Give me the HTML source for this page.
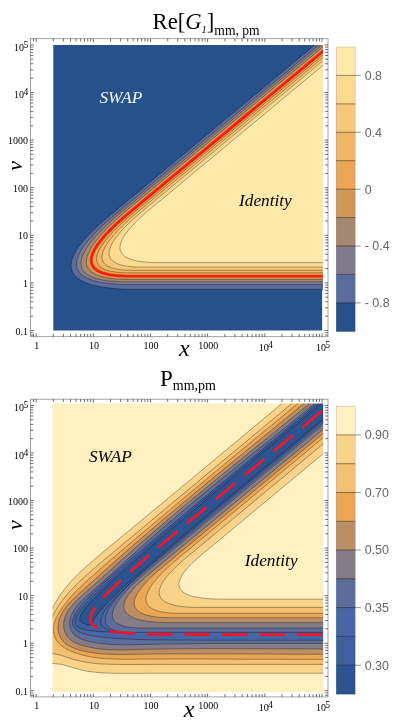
<!DOCTYPE html>
<html><head><meta charset="utf-8"><title>contour plots</title><style>html,body{margin:0;padding:0;background:#fff}svg{display:block;will-change:transform}text{font-family:"Liberation Serif",serif;fill:#000}.s{font-family:"Liberation Sans",sans-serif;fill:#666;font-size:12.5px}.t{font-size:10px}.i{font-style:italic}</style></head><body><svg width="393" height="723" viewBox="0 0 393 723"><rect width="393" height="723" fill="#fff"/><defs><clipPath id="c1"><rect x="53.3" y="44.9" width="269.7" height="285.6"/></clipPath></defs><g clip-path="url(#c1)" opacity=".999"><rect x="40" y="40" width="282.1" height="300" fill="#26518a"/><path d="M390.6,-18.2 108.4,216.7 104.2,220.3 100.2,223.8 96.5,227.2 93,230.6 89.8,233.8 86.8,236.9 84.1,240 81.7,242.9 79.5,245.8 77.5,248.5 75.8,251.2 74.4,253.8 73.2,256.3 72.3,258.7 71.7,261 71.3,263.3 71.1,265.4 71.2,267.4 71.6,269.4 72.2,271.3 73,273 74.2,274.7 75.5,276.3 77.2,277.8 79.1,279.2 81.2,280.5 83.6,281.7 86.3,282.9 89.2,283.9 92.3,284.9 95.8,285.7 99.4,286.5 103.4,287.2 107.6,287.8 112,288.3 116.7,288.7 121.7,289 126.9,289.2 132.3,289.4 138,289.4 390.6,289.4 383,289.4 383,-18.2Z" fill="#5a6c9e"/><path d="M390.6,-14.8 115.4,214.3 111.3,217.8 107.4,221.1 103.7,224.4 100.3,227.6 97.1,230.7 94.2,233.8 91.5,236.7 89,239.6 86.7,242.3 84.6,245 82.8,247.6 81.2,250.1 79.9,252.5 78.7,254.8 77.8,257.1 77.2,259.2 76.7,261.3 76.5,263.3 76.5,265.2 76.8,267 77.3,268.7 78,270.3 78.9,271.8 80,273.3 81.4,274.6 83.1,275.9 84.9,277.1 87,278.2 89.3,279.2 91.8,280.1 94.6,281 97.6,281.7 100.8,282.4 104.2,282.9 107.9,283.4 111.8,283.8 116,284.1 120.3,284.3 124.9,284.5 129.7,284.5 390.6,284.5 383,284.5 383,-14.8Z" fill="#807b8b"/><path d="M390.6,-12.2 123,210.6 118.8,214.1 114.9,217.5 111.1,220.8 107.6,224.1 104.3,227.3 101.3,230.3 98.4,233.3 95.8,236.2 93.3,239 91.1,241.7 89.1,244.3 87.4,246.9 85.8,249.3 84.5,251.7 83.4,253.9 82.4,256.1 81.8,258.2 81.3,260.2 81,262.1 81,263.9 81.2,265.7 81.6,267.3 82.2,268.9 83.1,270.3 84.1,271.7 85.4,273 86.9,274.2 88.6,275.3 90.5,276.3 92.6,277.3 95,278.1 97.6,278.9 100.4,279.5 103.4,280.1 106.6,280.6 110.1,281 113.7,281.3 117.6,281.5 121.7,281.7 126,281.7 390.6,281.7 383,281.7 383,-12.2Z" fill="#a68870"/><path d="M390.6,-9.4 129.9,207.7 125.7,211.2 121.7,214.7 117.9,218.1 114.3,221.3 111,224.5 107.9,227.6 104.9,230.6 102.2,233.5 99.8,236.3 97.5,239.1 95.4,241.7 93.6,244.3 91.9,246.7 90.5,249.1 89.3,251.4 88.3,253.6 87.5,255.7 86.9,257.7 86.6,259.6 86.4,261.5 86.5,263.2 86.7,264.9 87.2,266.4 87.9,267.9 88.9,269.3 90,270.6 91.3,271.8 92.9,272.9 94.7,274 96.7,274.9 98.9,275.7 101.3,276.5 103.9,277.2 106.7,277.8 109.8,278.3 113,278.7 116.5,279 120.2,279.2 124.1,279.3 128.2,279.4 390.6,279.4 383,279.4 383,-9.4Z" fill="#cf9758"/><path d="M390.6,-4.8 129.7,212.4 126,215.5 122.5,218.6 119.1,221.6 115.9,224.5 113,227.3 110.2,230.1 107.6,232.7 105.2,235.3 103,237.8 101,240.3 99.2,242.6 97.5,244.9 96.1,247.1 94.8,249.2 93.8,251.2 92.9,253.2 92.2,255 91.7,256.8 91.4,258.5 91.3,260.2 91.4,261.7 91.6,263.2 92.1,264.6 92.8,265.9 93.6,267.1 94.6,268.3 95.9,269.4 97.3,270.4 98.9,271.3 100.7,272.1 102.7,272.9 104.8,273.5 107.2,274.1 109.7,274.7 112.5,275.1 115.4,275.5 118.6,275.7 121.9,275.9 125.4,276.1 129.1,276.1 390.6,276.1 383,276.1 383,-4.8Z" fill="#eaa654"/><path d="M390.6,-1.2 135.8,210.9 132.2,214 128.7,217 125.5,219.9 122.4,222.7 119.4,225.4 116.7,228.1 114.1,230.7 111.7,233.2 109.5,235.6 107.5,238 105.6,240.3 103.9,242.5 102.4,244.6 101,246.7 99.9,248.6 98.9,250.5 98.1,252.4 97.4,254.1 97,255.8 96.7,257.3 96.6,258.8 96.7,260.3 96.9,261.6 97.3,262.9 97.9,264.1 98.7,265.2 99.7,266.3 100.8,267.2 102.1,268.1 103.6,268.9 105.2,269.7 107.1,270.3 109.1,270.9 111.2,271.4 113.6,271.8 116.1,272.2 118.9,272.5 121.7,272.7 124.8,272.8 128,272.8 390.6,272.8 383,272.8 383,-1.2Z" fill="#f0b766"/><path d="M390.6,1.5 141.3,209 137.8,212 134.3,215 131.1,217.8 128,220.6 125.1,223.4 122.4,226 119.8,228.6 117.4,231.1 115.2,233.5 113.1,235.8 111.3,238.1 109.6,240.3 108,242.4 106.7,244.4 105.5,246.3 104.5,248.2 103.6,250 103,251.7 102.5,253.4 102.2,255 102,256.5 102,257.9 102.2,259.2 102.6,260.5 103.1,261.7 103.8,262.8 104.7,263.8 105.8,264.8 107,265.7 108.4,266.5 110,267.2 111.7,267.8 113.6,268.4 115.7,268.9 118,269.3 120.4,269.7 123,269.9 125.8,270.1 128.7,270.2 131.9,270.3 390.6,270.3 383,270.3 383,1.5Z" fill="#f6c879"/><path d="M390.6,4.4 144.5,209.4 141.1,212.2 137.9,215 134.8,217.7 131.9,220.3 129.2,222.9 126.7,225.4 124.3,227.8 122.1,230.1 120.1,232.4 118.3,234.6 116.6,236.8 115,238.8 113.7,240.8 112.5,242.7 111.5,244.5 110.7,246.3 110,248 109.5,249.6 109.2,251.2 109,252.7 109,254.1 109.2,255.4 109.6,256.7 110.1,257.9 110.8,259 111.6,260 112.6,261 113.8,261.9 115.2,262.7 116.7,263.5 118.4,264.2 120.3,264.8 122.4,265.3 124.6,265.8 127,266.2 129.5,266.5 132.2,266.8 135.1,267 138.2,267.1 141.4,267.1 390.6,267.1 383,267.1 383,4.4Z" fill="#fbd98f"/><path d="M390.6,9 150.3,209 147.2,211.6 144.2,214.2 141.4,216.7 138.8,219.2 136.4,221.6 134.1,223.9 132,226.1 130,228.3 128.3,230.4 126.7,232.5 125.2,234.4 124,236.3 122.9,238.2 122,240 121.3,241.7 120.7,243.3 120.3,244.9 120.1,246.4 120,247.8 120.1,249.2 120.4,250.5 120.9,251.8 121.5,252.9 122.3,254 123.3,255.1 124.4,256.1 125.7,257 127.2,257.8 128.8,258.6 130.7,259.3 132.7,259.9 134.8,260.5 137.2,261 139.7,261.4 142.4,261.8 145.2,262.1 148.2,262.3 151.4,262.5 154.8,262.6 158.3,262.6 390.6,262.6 383,262.6 383,9Z" fill="#fee8aa"/><path d="M390.6,-18.2 108.4,216.7 104.2,220.3 100.2,223.8 96.5,227.2 93,230.6 89.8,233.8 86.8,236.9 84.1,240 81.7,242.9 79.5,245.8 77.5,248.5 75.8,251.2 74.4,253.8 73.2,256.3 72.3,258.7 71.7,261 71.3,263.3 71.1,265.4 71.2,267.4 71.6,269.4 72.2,271.3 73,273 74.2,274.7 75.5,276.3 77.2,277.8 79.1,279.2 81.2,280.5 83.6,281.7 86.3,282.9 89.2,283.9 92.3,284.9 95.8,285.7 99.4,286.5 103.4,287.2 107.6,287.8 112,288.3 116.7,288.7 121.7,289 126.9,289.2 132.3,289.4 138,289.4 390.6,289.4M390.6,-14.8 115.4,214.3 111.3,217.8 107.4,221.1 103.7,224.4 100.3,227.6 97.1,230.7 94.2,233.8 91.5,236.7 89,239.6 86.7,242.3 84.6,245 82.8,247.6 81.2,250.1 79.9,252.5 78.7,254.8 77.8,257.1 77.2,259.2 76.7,261.3 76.5,263.3 76.5,265.2 76.8,267 77.3,268.7 78,270.3 78.9,271.8 80,273.3 81.4,274.6 83.1,275.9 84.9,277.1 87,278.2 89.3,279.2 91.8,280.1 94.6,281 97.6,281.7 100.8,282.4 104.2,282.9 107.9,283.4 111.8,283.8 116,284.1 120.3,284.3 124.9,284.5 129.7,284.5 390.6,284.5M390.6,-12.2 123,210.6 118.8,214.1 114.9,217.5 111.1,220.8 107.6,224.1 104.3,227.3 101.3,230.3 98.4,233.3 95.8,236.2 93.3,239 91.1,241.7 89.1,244.3 87.4,246.9 85.8,249.3 84.5,251.7 83.4,253.9 82.4,256.1 81.8,258.2 81.3,260.2 81,262.1 81,263.9 81.2,265.7 81.6,267.3 82.2,268.9 83.1,270.3 84.1,271.7 85.4,273 86.9,274.2 88.6,275.3 90.5,276.3 92.6,277.3 95,278.1 97.6,278.9 100.4,279.5 103.4,280.1 106.6,280.6 110.1,281 113.7,281.3 117.6,281.5 121.7,281.7 126,281.7 390.6,281.7M390.6,-9.4 129.9,207.7 125.7,211.2 121.7,214.7 117.9,218.1 114.3,221.3 111,224.5 107.9,227.6 104.9,230.6 102.2,233.5 99.8,236.3 97.5,239.1 95.4,241.7 93.6,244.3 91.9,246.7 90.5,249.1 89.3,251.4 88.3,253.6 87.5,255.7 86.9,257.7 86.6,259.6 86.4,261.5 86.5,263.2 86.7,264.9 87.2,266.4 87.9,267.9 88.9,269.3 90,270.6 91.3,271.8 92.9,272.9 94.7,274 96.7,274.9 98.9,275.7 101.3,276.5 103.9,277.2 106.7,277.8 109.8,278.3 113,278.7 116.5,279 120.2,279.2 124.1,279.3 128.2,279.4 390.6,279.4M390.6,-1.2 135.8,210.9 132.2,214 128.7,217 125.5,219.9 122.4,222.7 119.4,225.4 116.7,228.1 114.1,230.7 111.7,233.2 109.5,235.6 107.5,238 105.6,240.3 103.9,242.5 102.4,244.6 101,246.7 99.9,248.6 98.9,250.5 98.1,252.4 97.4,254.1 97,255.8 96.7,257.3 96.6,258.8 96.7,260.3 96.9,261.6 97.3,262.9 97.9,264.1 98.7,265.2 99.7,266.3 100.8,267.2 102.1,268.1 103.6,268.9 105.2,269.7 107.1,270.3 109.1,270.9 111.2,271.4 113.6,271.8 116.1,272.2 118.9,272.5 121.7,272.7 124.8,272.8 128,272.8 390.6,272.8M390.6,1.5 141.3,209 137.8,212 134.3,215 131.1,217.8 128,220.6 125.1,223.4 122.4,226 119.8,228.6 117.4,231.1 115.2,233.5 113.1,235.8 111.3,238.1 109.6,240.3 108,242.4 106.7,244.4 105.5,246.3 104.5,248.2 103.6,250 103,251.7 102.5,253.4 102.2,255 102,256.5 102,257.9 102.2,259.2 102.6,260.5 103.1,261.7 103.8,262.8 104.7,263.8 105.8,264.8 107,265.7 108.4,266.5 110,267.2 111.7,267.8 113.6,268.4 115.7,268.9 118,269.3 120.4,269.7 123,269.9 125.8,270.1 128.7,270.2 131.9,270.3 390.6,270.3M390.6,4.4 144.5,209.4 141.1,212.2 137.9,215 134.8,217.7 131.9,220.3 129.2,222.9 126.7,225.4 124.3,227.8 122.1,230.1 120.1,232.4 118.3,234.6 116.6,236.8 115,238.8 113.7,240.8 112.5,242.7 111.5,244.5 110.7,246.3 110,248 109.5,249.6 109.2,251.2 109,252.7 109,254.1 109.2,255.4 109.6,256.7 110.1,257.9 110.8,259 111.6,260 112.6,261 113.8,261.9 115.2,262.7 116.7,263.5 118.4,264.2 120.3,264.8 122.4,265.3 124.6,265.8 127,266.2 129.5,266.5 132.2,266.8 135.1,267 138.2,267.1 141.4,267.1 390.6,267.1M390.6,9 150.3,209 147.2,211.6 144.2,214.2 141.4,216.7 138.8,219.2 136.4,221.6 134.1,223.9 132,226.1 130,228.3 128.3,230.4 126.7,232.5 125.2,234.4 124,236.3 122.9,238.2 122,240 121.3,241.7 120.7,243.3 120.3,244.9 120.1,246.4 120,247.8 120.1,249.2 120.4,250.5 120.9,251.8 121.5,252.9 122.3,254 123.3,255.1 124.4,256.1 125.7,257 127.2,257.8 128.8,258.6 130.7,259.3 132.7,259.9 134.8,260.5 137.2,261 139.7,261.4 142.4,261.8 145.2,262.1 148.2,262.3 151.4,262.5 154.8,262.6 158.3,262.6 390.6,262.6" fill="none" stroke="#000" stroke-opacity=".5" stroke-width=".65"/><path d="M390.6,-4.8 129.7,212.4 126,215.5 122.5,218.6 119.1,221.6 115.9,224.5 113,227.3 110.2,230.1 107.6,232.7 105.2,235.3 103,237.8 101,240.3 99.2,242.6 97.5,244.9 96.1,247.1 94.8,249.2 93.8,251.2 92.9,253.2 92.2,255 91.7,256.8 91.4,258.5 91.3,260.2 91.4,261.7 91.6,263.2 92.1,264.6 92.8,265.9 93.6,267.1 94.6,268.3 95.9,269.4 97.3,270.4 98.9,271.3 100.7,272.1 102.7,272.9 104.8,273.5 107.2,274.1 109.7,274.7 112.5,275.1 115.4,275.5 118.6,275.7 121.9,275.9 125.4,276.1 129.1,276.1 390.6,276.1" fill="none" stroke="#f5200f" stroke-width="2.9" stroke-linejoin="round"/></g><rect x="30.5" y="38.7" width="297.5" height="298" fill="none" stroke="#8c8c8c" stroke-width=".8"/><path d="M33.5,336.7v-2.8M33.5,38.7v2.8M36.1,336.7v-3.4M36.1,38.7v3.4M53.3,336.7v-2.8M53.3,38.7v2.8M63.4,336.7v-2.8M63.4,38.7v2.8M70.5,336.7v-2.8M70.5,38.7v2.8M76.1,336.7v-2.8M76.1,38.7v2.8M80.6,336.7v-2.8M80.6,38.7v2.8M84.4,336.7v-2.8M84.4,38.7v2.8M87.7,336.7v-2.8M87.7,38.7v2.8M90.7,336.7v-2.8M90.7,38.7v2.8M93.3,336.7v-3.4M93.3,38.7v3.4M110.5,336.7v-2.8M110.5,38.7v2.8M120.6,336.7v-2.8M120.6,38.7v2.8M127.7,336.7v-2.8M127.7,38.7v2.8M133.2,336.7v-2.8M133.2,38.7v2.8M137.8,336.7v-2.8M137.8,38.7v2.8M141.6,336.7v-2.8M141.6,38.7v2.8M144.9,336.7v-2.8M144.9,38.7v2.8M147.8,336.7v-2.8M147.8,38.7v2.8M150.5,336.7v-3.4M150.5,38.7v3.4M167.7,336.7v-2.8M167.7,38.7v2.8M177.7,336.7v-2.8M177.7,38.7v2.8M184.9,336.7v-2.8M184.9,38.7v2.8M190.4,336.7v-2.8M190.4,38.7v2.8M195,336.7v-2.8M195,38.7v2.8M198.8,336.7v-2.8M198.8,38.7v2.8M202.1,336.7v-2.8M202.1,38.7v2.8M205,336.7v-2.8M205,38.7v2.8M207.6,336.7v-3.4M207.6,38.7v3.4M224.9,336.7v-2.8M224.9,38.7v2.8M234.9,336.7v-2.8M234.9,38.7v2.8M242.1,336.7v-2.8M242.1,38.7v2.8M247.6,336.7v-2.8M247.6,38.7v2.8M252.1,336.7v-2.8M252.1,38.7v2.8M256,336.7v-2.8M256,38.7v2.8M259.3,336.7v-2.8M259.3,38.7v2.8M262.2,336.7v-2.8M262.2,38.7v2.8M264.8,336.7v-3.4M264.8,38.7v3.4M282,336.7v-2.8M282,38.7v2.8M292.1,336.7v-2.8M292.1,38.7v2.8M299.2,336.7v-2.8M299.2,38.7v2.8M304.8,336.7v-2.8M304.8,38.7v2.8M309.3,336.7v-2.8M309.3,38.7v2.8M313.1,336.7v-2.8M313.1,38.7v2.8M316.5,336.7v-2.8M316.5,38.7v2.8M319.4,336.7v-2.8M319.4,38.7v2.8M322,336.7v-3.4M322,38.7v3.4M30.5,335.1h2.8M328,335.1h-2.8M30.5,332.7h2.8M328,332.7h-2.8M30.5,330.5h3.4M328,330.5h-3.4M30.5,316.2h2.8M328,316.2h-2.8M30.5,307.8h2.8M328,307.8h-2.8M30.5,301.8h2.8M328,301.8h-2.8M30.5,297.2h2.8M328,297.2h-2.8M30.5,293.5h2.8M328,293.5h-2.8M30.5,290.3h2.8M328,290.3h-2.8M30.5,287.5h2.8M328,287.5h-2.8M30.5,285.1h2.8M328,285.1h-2.8M30.5,282.9h3.4M328,282.9h-3.4M30.5,268.6h2.8M328,268.6h-2.8M30.5,260.2h2.8M328,260.2h-2.8M30.5,254.2h2.8M328,254.2h-2.8M30.5,249.6h2.8M328,249.6h-2.8M30.5,245.9h2.8M328,245.9h-2.8M30.5,242.7h2.8M328,242.7h-2.8M30.5,239.9h2.8M328,239.9h-2.8M30.5,237.5h2.8M328,237.5h-2.8M30.5,235.3h3.4M328,235.3h-3.4M30.5,221h2.8M328,221h-2.8M30.5,212.6h2.8M328,212.6h-2.8M30.5,206.6h2.8M328,206.6h-2.8M30.5,202h2.8M328,202h-2.8M30.5,198.3h2.8M328,198.3h-2.8M30.5,195.1h2.8M328,195.1h-2.8M30.5,192.3h2.8M328,192.3h-2.8M30.5,189.9h2.8M328,189.9h-2.8M30.5,187.7h3.4M328,187.7h-3.4M30.5,173.4h2.8M328,173.4h-2.8M30.5,165h2.8M328,165h-2.8M30.5,159h2.8M328,159h-2.8M30.5,154.4h2.8M328,154.4h-2.8M30.5,150.7h2.8M328,150.7h-2.8M30.5,147.5h2.8M328,147.5h-2.8M30.5,144.7h2.8M328,144.7h-2.8M30.5,142.3h2.8M328,142.3h-2.8M30.5,140.1h3.4M328,140.1h-3.4M30.5,125.8h2.8M328,125.8h-2.8M30.5,117.4h2.8M328,117.4h-2.8M30.5,111.4h2.8M328,111.4h-2.8M30.5,106.8h2.8M328,106.8h-2.8M30.5,103.1h2.8M328,103.1h-2.8M30.5,99.9h2.8M328,99.9h-2.8M30.5,97.1h2.8M328,97.1h-2.8M30.5,94.7h2.8M328,94.7h-2.8M30.5,92.5h3.4M328,92.5h-3.4M30.5,78.2h2.8M328,78.2h-2.8M30.5,69.8h2.8M328,69.8h-2.8M30.5,63.8h2.8M328,63.8h-2.8M30.5,59.2h2.8M328,59.2h-2.8M30.5,55.5h2.8M328,55.5h-2.8M30.5,52.3h2.8M328,52.3h-2.8M30.5,49.5h2.8M328,49.5h-2.8M30.5,47.1h2.8M328,47.1h-2.8M30.5,44.9h3.4M328,44.9h-3.4" stroke="#333" stroke-width=".7" fill="none"/><text class="t" x="36.7" y="348.7" text-anchor="middle">1</text><text class="t" x="93.9" y="348.7" text-anchor="middle">10</text><text class="t" x="151.1" y="348.7" text-anchor="middle">100</text><text class="t" x="208.2" y="348.7" text-anchor="middle">1000</text><text class="t" x="265.8" y="350.6" text-anchor="middle" font-size="8.3">10<tspan dx="-.6" dy="-2.6" font-size="9.6">4</tspan></text><text class="t" x="323" y="350.6" text-anchor="middle" font-size="8.3">10<tspan dx="-.6" dy="-2.6" font-size="9.6">5</tspan></text><text class="t" x="27.9" y="334.5" text-anchor="end">0.1</text><text class="t" x="27.9" y="286.9" text-anchor="end">1</text><text class="t" x="27.9" y="239.3" text-anchor="end">10</text><text class="t" x="27.9" y="191.7" text-anchor="end">100</text><text class="t" x="27.9" y="144.1" text-anchor="end">1000</text><text class="t" x="28.3" y="98.4" text-anchor="end" font-size="8.3">10<tspan dx="-.6" dy="-3.1" font-size="9.6">4</tspan></text><text class="t" x="28.3" y="50.8" text-anchor="end" font-size="8.3">10<tspan dx="-.6" dy="-3.1" font-size="9.6">5</tspan></text><rect x="336.2" y="47" width="19" height="28.7" fill="#fee8aa"/><rect x="336.2" y="75.4" width="19" height="28.7" fill="#fbd98f"/><rect x="336.2" y="103.9" width="19" height="28.7" fill="#f6c879"/><rect x="336.2" y="132.3" width="19" height="28.7" fill="#f0b766"/><rect x="336.2" y="160.7" width="19" height="28.7" fill="#eaa654"/><rect x="336.2" y="189.2" width="19" height="28.7" fill="#cf9758"/><rect x="336.2" y="217.6" width="19" height="28.7" fill="#a68870"/><rect x="336.2" y="246" width="19" height="28.7" fill="#807b8b"/><rect x="336.2" y="274.4" width="19" height="28.7" fill="#5a6c9e"/><rect x="336.2" y="302.9" width="19" height="28.7" fill="#26518a"/><path d="M336.2,75.4H360.7M336.2,103.9H355.2M336.2,132.3H360.7M336.2,160.7H355.2M336.2,189.2H360.7M336.2,217.6H355.2M336.2,246H360.7M336.2,274.4H355.2M336.2,302.9H360.7" stroke="#000" stroke-opacity=".7" stroke-width=".6" fill="none"/><rect x="336.2" y="47" width="19" height="284.3" fill="none" stroke="#000" stroke-opacity=".25" stroke-width=".5"/><text class="s" x="364.7" y="79.8">0.8</text><text class="s" x="364.7" y="136.7">0.4</text><text class="s" x="364.7" y="193.6">0</text><text class="s" x="364.7" y="250.4">- 0.4</text><text class="s" x="364.7" y="307.3">- 0.8</text><text x="152.6" y="28.6" font-size="22.6">Re[<tspan class="i">G</tspan><tspan class="i" font-size="10.5" dy="4.5">1</tspan><tspan dy="-4.5">]</tspan><tspan font-size="13.6" dy="6">mm, pm</tspan></text><text class="i" x="99.4" y="103.1" font-size="17.3" style="fill:#f4f6fa">SWAP</text><text class="i" x="239" y="206.3" font-size="17.3">Identity</text><text class="i" x="184.3" y="355.6" font-size="24" text-anchor="middle">x</text><text class="i" transform="translate(22.4,165.8) rotate(-90)" font-size="22" text-anchor="middle">ν</text><defs><clipPath id="c2"><rect x="52.5" y="403.4" width="270.7" height="288.6"/></clipPath></defs><g clip-path="url(#c2)" opacity=".999"><rect x="40" y="395" width="300" height="310" fill="#fef0c1"/><path d="M390.8,312.9 371.4,329 352.1,345.1 332.8,361.1 313.6,377.1 294.4,393.1 275.3,409.1 256.1,425 237,441 217.8,456.9 198.6,472.9 179.4,488.9 160.1,504.9 140.8,520.9 121.4,537 101.9,553.1 100.3,554.4 98.8,555.7 97.2,557 95.7,558.3 94.1,559.6 92.6,560.9 91.1,562.2 89.6,563.6 88.1,564.9 86.6,566.2 85.1,567.6 83.6,568.9 82.2,570.3 80.7,571.6 79.3,573 77.9,574.4 76.5,575.8 75.1,577.2 73.7,578.6 72.4,580 71.1,581.5 69.7,582.9 68.5,584.4 67.2,585.9 66,587.4 64.8,588.9 63.6,590.4 62.4,592 61.3,593.5 60.2,595.1 59.1,596.7 58.1,598.3 57.1,599.9 56.1,601.6 55.1,603.2 54.2,604.9 53.4,606.6 52.5,608.3 51.7,610.1 50.9,611.9 50.2,613.6 49.5,615.5 48.9,617.3 48.2,619.2 46,662.8 49,663.1 52,663.4 55,663.7 58,664 61,664.3 64,665 67,665.8 70,666.8 73,667.7 76,668.5 79,669.3 82,670.1 85,670.8 88,671.3 91,671.7 94,672.1 97,672.4 100,672.7 103,672.9 106,673 109,673.1 112,673.2 115,673.2 118,673.3 121,673.3 124,673.3 127,673.3 130,673.3 133,673.3 136,673.3 139,673.3 142,673.3 145,673.3 148,673.2 151,673.2 154,673.2 157,673.2 200,673.2 260,673.2 330,673.2 390,673.2 390,312.9Z" fill="#f9d389"/><path d="M390.6,321 371.4,337.1 352.2,353.2 333,369.2 313.8,385.2 294.6,401.2 275.4,417.2 256.2,433.2 237,449.1 217.8,465.1 198.6,481.1 179.3,497.1 160.1,513.1 140.9,529.2 121.6,545.2 120.1,546.5 118.6,547.8 117,549.1 115.5,550.4 113.9,551.7 112.4,553 110.9,554.3 109.3,555.6 107.8,556.8 106.2,558.1 104.7,559.4 103.2,560.7 101.6,562 100.1,563.3 98.5,564.6 97,565.9 95.5,567.2 94,568.5 92.5,569.8 91,571.1 89.5,572.5 88,573.8 86.5,575.1 85,576.4 83.6,577.8 82.1,579.1 80.7,580.5 79.3,581.9 77.8,583.2 76.4,584.6 75.1,586 73.7,587.4 72.3,588.8 71,590.2 69.7,591.7 68.4,593.1 67.1,594.6 65.9,596 64.6,597.5 63.4,599 62.2,600.6 61.1,602.1 59.9,603.7 58.8,605.3 57.7,607 56.6,608.7 55.6,610.5 54.6,612.3 53.7,614.2 52.7,616.1 51.8,618.1 51,620.2 50.1,622.3 49.4,624.5 48.7,626.6 48.2,628.7 46,651.6 49,652.4 52,653.2 55,654 58,654.6 61,655.4 64,656.3 67,657.3 70,658.4 73,659.3 76,660.1 79,660.8 82,661.4 85,662 88,662.5 91,662.9 94,663.3 97,663.7 100,663.9 103,664 106,664.1 109,664.2 112,664.3 115,664.4 118,664.4 121,664.5 124,664.5 127,664.5 130,664.5 133,664.5 136,664.5 139,664.5 142,664.5 145,664.5 148,664.5 151,664.4 154,664.4 157,664.4 200,664.4 260,664.4 330,664.4 390,664.4 390,321Z" fill="#f3bf70"/><path d="M390.5,326.4 371.4,342.4 352.2,358.4 333,374.4 313.7,390.3 294.5,406.2 275.2,422.2 255.9,438.1 236.6,454.1 217.4,470.1 198.2,486.1 179,502.1 159.9,518.2 140.8,534.3 121.8,550.5 120.3,551.8 118.8,553.1 117.3,554.3 115.8,555.6 114.3,556.9 112.8,558.2 111.2,559.5 109.7,560.8 108.2,562.1 106.7,563.4 105.2,564.7 103.7,566 102.2,567.3 100.7,568.6 99.2,570 97.7,571.3 96.2,572.6 94.7,573.9 93.2,575.2 91.7,576.5 90.2,577.8 88.7,579.1 87.2,580.5 85.7,581.8 84.3,583.2 82.8,584.6 81.3,586 79.9,587.4 78.5,588.8 77.1,590.2 75.6,591.7 74.2,593.2 72.9,594.7 71.5,596.2 70.1,597.7 68.8,599.3 67.5,600.9 66.2,602.5 64.9,604.2 63.6,605.9 62.4,607.6 61.2,609.3 60,611.1 58.9,612.9 57.9,614.7 57,616.5 56.1,618.3 55.4,620.1 54.8,621.9 54.2,623.7 53.9,625.5 53.6,627.3 53.5,629.1 53.6,630.9 53.8,632.7 54.1,634.4 54.6,636.1 55.2,637.7 56,639.3 56.9,640.8 58,642.2 59.2,643.6 60.5,644.9 61.9,646.1 63.5,647.2 65.1,648.3 66.9,649.2 68.7,650.2 70.5,651 72.4,651.8 74.4,652.6 76.4,653.2 78.4,653.9 80.4,654.5 82.4,655 84.4,655.5 86.4,656 88.4,656.4 90.4,656.8 92.4,657.1 94.4,657.5 96.4,657.7 98.4,658 100.4,658.2 102.4,658.4 104.4,658.6 106.4,658.7 108.4,658.8 110.4,658.9 112.4,659 114.4,659.1 116.4,659.1 118.4,659.2 120.4,659.2 122.4,659.2 124.4,659.2 126.4,659.2 128.4,659.2 130.4,659.2 132.4,659.2 134.4,659.2 136.4,659.2 138.4,659.1 140.4,659.1 142.4,659.1 144.4,659.1 146.4,659.1 148.4,659.1 150.4,659.1 175.4,659 200.4,659 225.4,659.1 250.3,659.2 275.3,659.2 300.3,659.3 325.3,659.4 350.4,659.3 375.4,659.2 390,659.1Z" fill="#eaa652"/><path d="M390.1,330.8 371.4,347 352.4,363.2 333.3,379.2 314,395.2 294.7,411.1 275.3,427 255.9,442.8 236.5,458.7 217.1,474.6 197.8,490.5 178.7,506.5 159.6,522.5 140.8,538.7 122.1,555 120.6,556.3 119.2,557.6 117.7,558.9 116.2,560.3 114.7,561.6 113.3,562.9 111.8,564.2 110.3,565.5 108.8,566.8 107.4,568.2 105.9,569.5 104.4,570.8 102.9,572.2 101.4,573.5 99.9,574.8 98.4,576.2 96.9,577.6 95.4,578.9 93.9,580.3 92.4,581.7 90.8,583 89.3,584.4 87.7,585.8 86.2,587.2 84.6,588.6 83,590 81.4,591.5 79.8,592.9 78.2,594.4 76.7,595.8 75.1,597.3 73.6,598.8 72.1,600.3 70.6,601.8 69.2,603.3 67.8,604.9 66.5,606.5 65.3,608.1 64.1,609.7 63.1,611.3 62.1,613 61.2,614.6 60.4,616.3 59.7,618.1 59.1,619.8 58.6,621.6 58.3,623.4 58.1,625.2 58,627.1 58.1,628.9 58.3,630.7 58.7,632.5 59.1,634.3 59.8,635.9 60.5,637.6 61.4,639.1 62.5,640.6 63.7,642 65,643.2 66.5,644.4 68.1,645.4 69.8,646.4 71.5,647.2 73.4,648 75.3,648.8 77.3,649.4 79.3,650 81.3,650.6 83.4,651.1 85.4,651.5 87.5,651.9 89.6,652.3 91.6,652.6 93.6,652.9 95.7,653.2 97.7,653.4 99.7,653.6 101.7,653.8 103.8,654 105.8,654.1 107.8,654.2 109.8,654.3 111.8,654.4 113.8,654.4 115.8,654.5 117.8,654.5 119.8,654.5 121.8,654.5 123.7,654.5 125.7,654.5 127.7,654.4 129.7,654.4 131.7,654.4 133.7,654.3 135.7,654.3 137.7,654.3 139.7,654.3 141.6,654.2 143.6,654.2 145.6,654.2 147.6,654.2 149.6,654.1 151.6,654.1 176.5,653.9 201.5,653.9 226.5,653.9 251.6,654 276.6,654.1 301.7,654.2 326.7,654.2 351.7,654.2 376.6,654 390,653.9Z" fill="#bb8e64"/><path d="M390.3,336.7 371.4,352.8 352.3,368.7 333,384.6 313.7,400.4 294.2,416.2 274.7,431.9 255.2,447.7 235.8,463.5 216.4,479.3 197.1,495.2 177.9,511.2 159,527.3 140.2,543.6 138.7,544.9 137.2,546.2 135.7,547.5 134.2,548.8 132.8,550.1 131.3,551.4 129.8,552.8 128.3,554.1 126.8,555.4 125.4,556.7 123.9,558 122.4,559.3 120.9,560.7 119.5,562 118,563.3 116.5,564.6 115.1,566 113.6,567.3 112.1,568.6 110.7,569.9 109.2,571.3 107.7,572.6 106.3,574 104.8,575.3 103.3,576.6 101.8,578 100.3,579.4 98.8,580.7 97.3,582.1 95.7,583.5 94.2,584.8 92.6,586.2 91,587.6 89.4,589 87.8,590.4 86.2,591.9 84.5,593.3 82.9,594.7 81.3,596.2 79.7,597.6 78.1,599.1 76.6,600.6 75.1,602.1 73.7,603.6 72.4,605.2 71.1,606.8 69.8,608.3 68.7,609.9 67.7,611.6 66.7,613.2 65.9,614.9 65.2,616.6 64.6,618.3 64.1,620 63.8,621.8 63.7,623.6 63.7,625.4 63.8,627.3 64.1,629 64.5,630.8 65.1,632.5 65.9,634.1 66.8,635.7 67.8,637.1 69.1,638.5 70.4,639.7 71.9,640.8 73.5,641.8 75.2,642.7 77,643.6 78.9,644.3 80.8,645 82.8,645.6 84.8,646.2 86.9,646.7 88.9,647.1 91,647.5 93,647.9 95.1,648.2 97.1,648.5 99.1,648.8 101.2,649 103.2,649.2 105.2,649.4 107.2,649.5 109.2,649.6 111.2,649.7 113.2,649.8 115.2,649.8 117.2,649.9 119.2,649.9 121.2,649.9 123.2,649.9 125.2,649.8 127.2,649.8 129.2,649.7 131.2,649.7 133.2,649.6 135.2,649.6 137.2,649.5 139.2,649.5 141.2,649.4 143.2,649.4 145.2,649.3 147.2,649.3 149.2,649.3 151.2,649.2 176.1,648.8 201.1,648.6 226.1,648.6 251.1,648.7 276.2,648.8 301.2,648.9 326.2,649 351.2,649 376.2,648.8 390,648.6Z" fill="#857c85"/><path d="M390.2,340.5 371.4,356.7 352.4,372.7 333.1,388.6 313.7,404.4 294.3,420.2 274.8,435.9 255.2,451.6 235.7,467.4 216.3,483.2 197,499.1 177.9,515.1 159,531.3 140.4,547.7 138.9,549 137.4,550.3 136,551.6 134.5,553 133,554.3 131.6,555.6 130.1,556.9 128.6,558.3 127.2,559.6 125.7,560.9 124.2,562.3 122.8,563.6 121.3,564.9 119.9,566.3 118.4,567.6 117,568.9 115.5,570.3 114,571.6 112.5,573 111.1,574.4 109.6,575.7 108.1,577.1 106.6,578.4 105.1,579.8 103.6,581.2 102,582.6 100.5,584 98.9,585.3 97.3,586.7 95.7,588.1 94.1,589.5 92.5,591 90.9,592.4 89.2,593.8 87.6,595.2 86,596.7 84.4,598.2 82.9,599.6 81.4,601.1 80,602.6 78.6,604.2 77.3,605.7 76,607.3 74.9,608.8 73.8,610.4 72.9,612.1 72,613.7 71.3,615.4 70.7,617.1 70.3,618.8 69.9,620.6 69.8,622.4 69.8,624.2 70,626 70.3,627.8 70.9,629.5 71.6,631.1 72.5,632.6 73.6,634 74.8,635.2 76.3,636.3 77.9,637.3 79.6,638.2 81.4,639 83.3,639.8 85.3,640.4 87.3,641 89.4,641.5 91.5,641.9 93.6,642.3 95.7,642.7 97.7,643 99.8,643.3 101.9,643.6 103.9,643.8 105.9,644 108,644.2 110,644.4 112,644.5 114,644.6 116,644.7 118,644.7 120,644.8 122,644.8 124,644.8 126,644.8 128,644.8 130,644.8 132,644.7 134,644.7 135.9,644.7 137.9,644.6 139.9,644.6 141.9,644.5 143.9,644.5 145.9,644.4 147.8,644.4 149.8,644.3 151.8,644.3 176.7,643.9 201.6,643.6 226.7,643.5 251.7,643.5 276.8,643.5 301.9,643.5 327,643.6 352,643.5 376.9,643.4 389.9,643.3Z" fill="#5d6d9b"/><path d="M457.8,286.6 377,353.8 296.2,421 215.4,488.2 190.6,508.8 169.3,526.6 150.9,542.1 135.1,555.4 121.7,566.9 110.4,576.9 101,585.5 93.2,592.9 86.9,599.3 81.9,604.9 78.1,609.7 75.4,613.8 73.7,617.4 72.7,620.5 72.5,623.2 72.9,625.5 74,627.5 75.5,629.3 77.4,630.8 79.7,632.1 82.3,633.2 85.3,634.1 88.4,635 91.8,635.7 95.4,636.3 99.2,636.9 103.1,637.3 107.1,637.7 111.2,638.1 115.4,638.4 119.7,638.6 124,638.9 128.4,639.1 132.9,639.2 137.4,639.4 142,639.5 146.6,639.6 151.2,639.7 155.8,639.8 160.5,639.9 165.2,639.9 169.9,640 174.6,640 179.3,640.1 184,640.1 188.8,640.1 193.5,640.1 198.3,640.2 203,640.2 207.8,640.2 212.6,640.2 217.3,640.2 222.1,640.2 226.9,640.2 231.7,640.3 236.5,640.3 241.3,640.3 246.1,640.3 250.8,640.3 255.6,640.3 260.4,640.3 265.2,640.3 270,640.3 274.8,640.3 279.6,640.3 284.4,640.3 289.2,640.3 294,640.3 298.8,640.3 303.6,640.3 308.4,640.3 313.2,640.3 318,640.3 322.8,640.3 327.6,640.3 332.4,640.3 337.2,640.3 342,640.3 346.8,640.3 379.2,640.3 383.2,640.3 383.2,286.6Z" fill="#4866a3"/><path d="M459.8,286.6 382.2,351.1 304.6,415.7 227.1,480.2 202.4,500.8 181.1,518.7 162.8,534.1 147.1,547.4 133.8,558.9 122.4,568.9 112.7,577.5 104.7,584.9 97.9,591.3 92.3,596.9 87.8,601.7 84.1,605.9 81.2,609.4 79,612.5 77.3,615.2 76.2,617.5 75.5,619.5 75.2,621.3 75.3,622.8 75.6,624.1 76.1,625.2 76.9,626.2 77.9,627 79,627.7 80.3,628.3 81.7,628.9 83.2,629.3 84.8,629.8 86.5,630.1 88.2,630.4 90,630.7 91.8,630.9 93.7,631.1 95.7,631.2 97.6,631.4 99.6,631.5 101.6,631.6 103.7,631.7 105.7,631.8 107.8,631.9 109.9,631.9 112,632 114.1,632 115.2,632.1 114.5,631.9 112,631.3 109.7,630.6 107.5,629.7 105.6,628.8 104,627.6 102.6,626.3 101.5,624.8 100.9,623.1 100.7,621.1 100.9,618.8 101.8,616.1 103.3,613 105.6,609.4 108.7,605.3 112.8,600.5 118,594.9 124.5,588.5 132.4,581 141.9,572.4 153.2,562.5 166.6,551 182.3,537.6 200.6,522.2 221.9,504.4 246.7,483.8 325.7,418 404.7,352.3 483.8,286.6Z" fill="#3e609f"/><path d="M462.1,286.6 387,349 312,411.5 237.1,473.9 212.4,494.5 191.2,512.4 172.9,527.8 157.3,541.1 143.9,552.6 132.5,562.6 122.8,571.2 114.5,578.6 107.5,585.1 101.7,590.6 96.8,595.4 92.8,599.6 89.5,603.2 86.8,606.3 84.6,609 83,611.3 81.7,613.3 80.8,615 80.2,616.5 79.9,617.8 79.8,618.9 79.9,619.9 80.2,620.7 80.6,621.4 81.1,622.1 81.8,622.6 82.5,623.1 83.4,623.5 84.3,623.8 85.2,624.1 86.3,624.4 87.3,624.6 88.4,624.8 89.6,625 90.8,625.1 91.9,625.2 92,624.4 92.9,621.7 94.5,618.6 96.8,615 100,610.9 104.2,606.1 109.4,600.5 115.9,594.1 123.9,586.6 133.4,578 144.7,568.1 158.1,556.6 173.9,543.2 192.2,527.8 213.5,510 238.3,489.4 319.5,421.8 400.8,354.2 482.1,286.6Z" fill="#2b5490"/><path d="M390.6,366.1 151.7,564.8 147.7,568.1 143.9,571.4 140.3,574.6 136.8,577.6 133.6,580.6 130.5,583.6 127.6,586.4 124.8,589.1 122.3,591.8 119.9,594.4 117.7,596.9 115.7,599.3 113.8,601.6 112.2,603.8 110.7,606 109.4,608.1 108.3,610.1 107.3,612 106.5,613.8 105.9,615.5 105.5,617.2 105.3,618.7 105.2,620.2 105.3,621.6 105.6,622.9 106.1,624.1 106.7,625.3 107.6,626.3 108.6,627.3 109.7,628.2 111.1,629 112.6,629.7 114.3,630.3 116.2,630.9 118.3,631.4 120.6,631.7 123,632 125.6,632.2 128.4,632.4 131.3,632.4 390.6,632.4 383.2,632.4 383.2,366.1Z" fill="#5d6d9b"/><path d="M390.6,368.7 151.2,567.8 147.6,570.8 144.3,573.7 141.1,576.5 138,579.2 135.2,581.9 132.5,584.5 130,587 127.6,589.5 125.4,591.8 123.4,594.1 121.6,596.3 119.9,598.5 118.4,600.6 117.1,602.6 115.9,604.5 114.9,606.3 114,608.1 113.4,609.8 112.9,611.4 112.6,612.9 112.4,614.4 112.4,615.8 112.6,617.1 113,618.4 113.5,619.5 114.2,620.6 115,621.6 116.1,622.6 117.3,623.4 118.6,624.2 120.2,624.9 121.9,625.6 123.7,626.2 125.8,626.6 128,627.1 130.4,627.4 132.9,627.7 135.6,627.8 138.5,628 141.6,628 390.6,628 383.2,628 383.2,368.7Z" fill="#857c85"/><path d="M390.6,373.3 147,575.8 144.3,578.1 141.8,580.4 139.4,582.6 137.2,584.7 135.1,586.8 133.2,588.8 131.5,590.8 130,592.7 128.6,594.5 127.5,596.3 126.4,598 125.6,599.7 124.9,601.3 124.4,602.9 124.1,604.3 123.9,605.8 123.9,607.2 124.1,608.5 124.5,609.7 125,610.9 125.7,612.1 126.5,613.1 127.6,614.2 128.8,615.1 130.2,616 131.7,616.9 133.4,617.7 135.3,618.4 137.4,619.1 139.6,619.7 142,620.3 144.6,620.8 147.3,621.2 150.3,621.6 153.3,621.9 156.6,622.2 160,622.4 163.6,622.5 167.4,622.6 171.4,622.6 390.6,622.6 383.2,622.6 383.2,373.3Z" fill="#bb8e64"/><path d="M390.6,377.4 163,566.7 160,569.2 157.2,571.6 154.5,574 152,576.4 149.7,578.6 147.5,580.8 145.5,583 143.7,585 142,587 140.5,589 139.1,590.9 137.9,592.7 136.9,594.4 136.1,596.1 135.4,597.8 134.8,599.3 134.5,600.8 134.2,602.3 134.2,603.6 134.3,604.9 134.6,606.2 135.1,607.4 135.7,608.5 136.4,609.5 137.4,610.5 138.5,611.4 139.7,612.3 141.2,613.1 142.8,613.8 144.5,614.5 146.4,615.1 148.5,615.6 150.8,616.1 153.2,616.5 155.8,616.9 158.5,617.2 161.4,617.4 164.5,617.6 167.7,617.6 171.1,617.7 390.6,617.7 383.2,617.7 383.2,377.4Z" fill="#eaa652"/><path d="M390.6,381.7 179.9,557 176.6,559.7 173.4,562.5 170.5,565.1 167.7,567.7 165,570.2 162.6,572.6 160.3,575 158.2,577.2 156.2,579.5 154.5,581.6 152.8,583.7 151.4,585.7 150.1,587.6 149,589.5 148.1,591.3 147.3,593 146.8,594.7 146.3,596.3 146.1,597.8 146,599.2 146.1,600.6 146.3,601.9 146.8,603.1 147.4,604.3 148.1,605.4 149.1,606.4 150.2,607.4 151.4,608.2 152.9,609 154.5,609.8 156.3,610.5 158.2,611.1 160.4,611.6 162.6,612 165.1,612.4 167.7,612.7 170.5,613 173.5,613.2 176.6,613.3 180,613.3 390.6,613.3 383.2,613.3 383.2,381.7Z" fill="#f3bf70"/><path d="M390.6,387.8 186.1,557.8 183.2,560.3 180.5,562.7 177.9,565 175.5,567.3 173.3,569.5 171.2,571.6 169.3,573.7 167.6,575.7 166,577.6 164.6,579.5 163.3,581.4 162.2,583.1 161.3,584.8 160.6,586.5 160,588 159.6,589.6 159.3,591 159.2,592.4 159.3,593.7 159.5,595 159.9,596.2 160.5,597.4 161.2,598.5 162.1,599.5 163.2,600.4 164.4,601.3 165.8,602.2 167.3,602.9 169.1,603.7 171,604.3 173,604.9 175.2,605.4 177.6,605.9 180.2,606.3 182.9,606.6 185.8,606.9 188.8,607.1 192,607.3 195.4,607.4 198.9,607.4 390.6,607.4 383.2,607.4 383.2,387.8Z" fill="#f9d389"/><path d="M390.6,397.7 201,555.3 198.5,557.5 196.1,559.6 193.8,561.7 191.8,563.6 189.8,565.6 188.1,567.5 186.5,569.3 185,571.1 183.7,572.8 182.6,574.5 181.6,576.1 180.8,577.6 180.1,579.2 179.6,580.6 179.2,582 179,583.3 179,584.6 179.1,585.9 179.4,587 179.8,588.2 180.4,589.2 181.2,590.2 182.1,591.2 183.1,592.1 184.4,592.9 185.7,593.7 187.3,594.5 189,595.2 190.8,595.8 192.8,596.4 195,596.9 197.3,597.3 199.8,597.8 202.4,598.1 205.2,598.4 208.1,598.7 211.2,598.8 214.5,599 217.9,599.1 221.5,599.1 390.6,599.1 383.2,599.1 383.2,397.7Z" fill="#fef0c1"/><path d="M390.8,312.9 371.4,329 352.1,345.1 332.8,361.1 313.6,377.1 294.4,393.1 275.3,409.1 256.1,425 237,441 217.8,456.9 198.6,472.9 179.4,488.9 160.1,504.9 140.8,520.9 121.4,537 101.9,553.1 100.3,554.4 98.8,555.7 97.2,557 95.7,558.3 94.1,559.6 92.6,560.9 91.1,562.2 89.6,563.6 88.1,564.9 86.6,566.2 85.1,567.6 83.6,568.9 82.2,570.3 80.7,571.6 79.3,573 77.9,574.4 76.5,575.8 75.1,577.2 73.7,578.6 72.4,580 71.1,581.5 69.7,582.9 68.5,584.4 67.2,585.9 66,587.4 64.8,588.9 63.6,590.4 62.4,592 61.3,593.5 60.2,595.1 59.1,596.7 58.1,598.3 57.1,599.9 56.1,601.6 55.1,603.2 54.2,604.9 53.4,606.6 52.5,608.3 51.7,610.1 50.9,611.9 50.2,613.6 49.5,615.5 48.9,617.3 48.2,619.2M46,662.8 49,663.1 52,663.4 55,663.7 58,664 61,664.3 64,665 67,665.8 70,666.8 73,667.7 76,668.5 79,669.3 82,670.1 85,670.8 88,671.3 91,671.7 94,672.1 97,672.4 100,672.7 103,672.9 106,673 109,673.1 112,673.2 115,673.2 118,673.3 121,673.3 124,673.3 127,673.3 130,673.3 133,673.3 136,673.3 139,673.3 142,673.3 145,673.3 148,673.2 151,673.2 154,673.2 157,673.2 200,673.2 260,673.2 330,673.2 390,673.2M390.6,321 371.4,337.1 352.2,353.2 333,369.2 313.8,385.2 294.6,401.2 275.4,417.2 256.2,433.2 237,449.1 217.8,465.1 198.6,481.1 179.3,497.1 160.1,513.1 140.9,529.2 121.6,545.2 120.1,546.5 118.6,547.8 117,549.1 115.5,550.4 113.9,551.7 112.4,553 110.9,554.3 109.3,555.6 107.8,556.8 106.2,558.1 104.7,559.4 103.2,560.7 101.6,562 100.1,563.3 98.5,564.6 97,565.9 95.5,567.2 94,568.5 92.5,569.8 91,571.1 89.5,572.5 88,573.8 86.5,575.1 85,576.4 83.6,577.8 82.1,579.1 80.7,580.5 79.3,581.9 77.8,583.2 76.4,584.6 75.1,586 73.7,587.4 72.3,588.8 71,590.2 69.7,591.7 68.4,593.1 67.1,594.6 65.9,596 64.6,597.5 63.4,599 62.2,600.6 61.1,602.1 59.9,603.7 58.8,605.3 57.7,607 56.6,608.7 55.6,610.5 54.6,612.3 53.7,614.2 52.7,616.1 51.8,618.1 51,620.2 50.1,622.3 49.4,624.5 48.7,626.6 48.2,628.7M46,651.6 49,652.4 52,653.2 55,654 58,654.6 61,655.4 64,656.3 67,657.3 70,658.4 73,659.3 76,660.1 79,660.8 82,661.4 85,662 88,662.5 91,662.9 94,663.3 97,663.7 100,663.9 103,664 106,664.1 109,664.2 112,664.3 115,664.4 118,664.4 121,664.5 124,664.5 127,664.5 130,664.5 133,664.5 136,664.5 139,664.5 142,664.5 145,664.5 148,664.5 151,664.4 154,664.4 157,664.4 200,664.4 260,664.4 330,664.4 390,664.4M390.5,326.4 371.4,342.4 352.2,358.4 333,374.4 313.7,390.3 294.5,406.2 275.2,422.2 255.9,438.1 236.6,454.1 217.4,470.1 198.2,486.1 179,502.1 159.9,518.2 140.8,534.3 121.8,550.5 120.3,551.8 118.8,553.1 117.3,554.3 115.8,555.6 114.3,556.9 112.8,558.2 111.2,559.5 109.7,560.8 108.2,562.1 106.7,563.4 105.2,564.7 103.7,566 102.2,567.3 100.7,568.6 99.2,570 97.7,571.3 96.2,572.6 94.7,573.9 93.2,575.2 91.7,576.5 90.2,577.8 88.7,579.1 87.2,580.5 85.7,581.8 84.3,583.2 82.8,584.6 81.3,586 79.9,587.4 78.5,588.8 77.1,590.2 75.6,591.7 74.2,593.2 72.9,594.7 71.5,596.2 70.1,597.7 68.8,599.3 67.5,600.9 66.2,602.5 64.9,604.2 63.6,605.9 62.4,607.6 61.2,609.3 60,611.1 58.9,612.9 57.9,614.7 57,616.5 56.1,618.3 55.4,620.1 54.8,621.9 54.2,623.7 53.9,625.5 53.6,627.3 53.5,629.1 53.6,630.9 53.8,632.7 54.1,634.4 54.6,636.1 55.2,637.7 56,639.3 56.9,640.8 58,642.2 59.2,643.6 60.5,644.9 61.9,646.1 63.5,647.2 65.1,648.3 66.9,649.2 68.7,650.2 70.5,651 72.4,651.8 74.4,652.6 76.4,653.2 78.4,653.9 80.4,654.5 82.4,655 84.4,655.5 86.4,656 88.4,656.4 90.4,656.8 92.4,657.1 94.4,657.5 96.4,657.7 98.4,658 100.4,658.2 102.4,658.4 104.4,658.6 106.4,658.7 108.4,658.8 110.4,658.9 112.4,659 114.4,659.1 116.4,659.1 118.4,659.2 120.4,659.2 122.4,659.2 124.4,659.2 126.4,659.2 128.4,659.2 130.4,659.2 132.4,659.2 134.4,659.2 136.4,659.2 138.4,659.1 140.4,659.1 142.4,659.1 144.4,659.1 146.4,659.1 148.4,659.1 150.4,659.1 175.4,659 200.4,659 225.4,659.1 250.3,659.2 275.3,659.2 300.3,659.3 325.3,659.4 350.4,659.3 375.4,659.2 390,659.1M390.1,330.8 371.4,347 352.4,363.2 333.3,379.2 314,395.2 294.7,411.1 275.3,427 255.9,442.8 236.5,458.7 217.1,474.6 197.8,490.5 178.7,506.5 159.6,522.5 140.8,538.7 122.1,555 120.6,556.3 119.2,557.6 117.7,558.9 116.2,560.3 114.7,561.6 113.3,562.9 111.8,564.2 110.3,565.5 108.8,566.8 107.4,568.2 105.9,569.5 104.4,570.8 102.9,572.2 101.4,573.5 99.9,574.8 98.4,576.2 96.9,577.6 95.4,578.9 93.9,580.3 92.4,581.7 90.8,583 89.3,584.4 87.7,585.8 86.2,587.2 84.6,588.6 83,590 81.4,591.5 79.8,592.9 78.2,594.4 76.7,595.8 75.1,597.3 73.6,598.8 72.1,600.3 70.6,601.8 69.2,603.3 67.8,604.9 66.5,606.5 65.3,608.1 64.1,609.7 63.1,611.3 62.1,613 61.2,614.6 60.4,616.3 59.7,618.1 59.1,619.8 58.6,621.6 58.3,623.4 58.1,625.2 58,627.1 58.1,628.9 58.3,630.7 58.7,632.5 59.1,634.3 59.8,635.9 60.5,637.6 61.4,639.1 62.5,640.6 63.7,642 65,643.2 66.5,644.4 68.1,645.4 69.8,646.4 71.5,647.2 73.4,648 75.3,648.8 77.3,649.4 79.3,650 81.3,650.6 83.4,651.1 85.4,651.5 87.5,651.9 89.6,652.3 91.6,652.6 93.6,652.9 95.7,653.2 97.7,653.4 99.7,653.6 101.7,653.8 103.8,654 105.8,654.1 107.8,654.2 109.8,654.3 111.8,654.4 113.8,654.4 115.8,654.5 117.8,654.5 119.8,654.5 121.8,654.5 123.7,654.5 125.7,654.5 127.7,654.4 129.7,654.4 131.7,654.4 133.7,654.3 135.7,654.3 137.7,654.3 139.7,654.3 141.6,654.2 143.6,654.2 145.6,654.2 147.6,654.2 149.6,654.1 151.6,654.1 176.5,653.9 201.5,653.9 226.5,653.9 251.6,654 276.6,654.1 301.7,654.2 326.7,654.2 351.7,654.2 376.6,654 390,653.9M390.3,336.7 371.4,352.8 352.3,368.7 333,384.6 313.7,400.4 294.2,416.2 274.7,431.9 255.2,447.7 235.8,463.5 216.4,479.3 197.1,495.2 177.9,511.2 159,527.3 140.2,543.6 138.7,544.9 137.2,546.2 135.7,547.5 134.2,548.8 132.8,550.1 131.3,551.4 129.8,552.8 128.3,554.1 126.8,555.4 125.4,556.7 123.9,558 122.4,559.3 120.9,560.7 119.5,562 118,563.3 116.5,564.6 115.1,566 113.6,567.3 112.1,568.6 110.7,569.9 109.2,571.3 107.7,572.6 106.3,574 104.8,575.3 103.3,576.6 101.8,578 100.3,579.4 98.8,580.7 97.3,582.1 95.7,583.5 94.2,584.8 92.6,586.2 91,587.6 89.4,589 87.8,590.4 86.2,591.9 84.5,593.3 82.9,594.7 81.3,596.2 79.7,597.6 78.1,599.1 76.6,600.6 75.1,602.1 73.7,603.6 72.4,605.2 71.1,606.8 69.8,608.3 68.7,609.9 67.7,611.6 66.7,613.2 65.9,614.9 65.2,616.6 64.6,618.3 64.1,620 63.8,621.8 63.7,623.6 63.7,625.4 63.8,627.3 64.1,629 64.5,630.8 65.1,632.5 65.9,634.1 66.8,635.7 67.8,637.1 69.1,638.5 70.4,639.7 71.9,640.8 73.5,641.8 75.2,642.7 77,643.6 78.9,644.3 80.8,645 82.8,645.6 84.8,646.2 86.9,646.7 88.9,647.1 91,647.5 93,647.9 95.1,648.2 97.1,648.5 99.1,648.8 101.2,649 103.2,649.2 105.2,649.4 107.2,649.5 109.2,649.6 111.2,649.7 113.2,649.8 115.2,649.8 117.2,649.9 119.2,649.9 121.2,649.9 123.2,649.9 125.2,649.8 127.2,649.8 129.2,649.7 131.2,649.7 133.2,649.6 135.2,649.6 137.2,649.5 139.2,649.5 141.2,649.4 143.2,649.4 145.2,649.3 147.2,649.3 149.2,649.3 151.2,649.2 176.1,648.8 201.1,648.6 226.1,648.6 251.1,648.7 276.2,648.8 301.2,648.9 326.2,649 351.2,649 376.2,648.8 390,648.6M390.2,340.5 371.4,356.7 352.4,372.7 333.1,388.6 313.7,404.4 294.3,420.2 274.8,435.9 255.2,451.6 235.7,467.4 216.3,483.2 197,499.1 177.9,515.1 159,531.3 140.4,547.7 138.9,549 137.4,550.3 136,551.6 134.5,553 133,554.3 131.6,555.6 130.1,556.9 128.6,558.3 127.2,559.6 125.7,560.9 124.2,562.3 122.8,563.6 121.3,564.9 119.9,566.3 118.4,567.6 117,568.9 115.5,570.3 114,571.6 112.5,573 111.1,574.4 109.6,575.7 108.1,577.1 106.6,578.4 105.1,579.8 103.6,581.2 102,582.6 100.5,584 98.9,585.3 97.3,586.7 95.7,588.1 94.1,589.5 92.5,591 90.9,592.4 89.2,593.8 87.6,595.2 86,596.7 84.4,598.2 82.9,599.6 81.4,601.1 80,602.6 78.6,604.2 77.3,605.7 76,607.3 74.9,608.8 73.8,610.4 72.9,612.1 72,613.7 71.3,615.4 70.7,617.1 70.3,618.8 69.9,620.6 69.8,622.4 69.8,624.2 70,626 70.3,627.8 70.9,629.5 71.6,631.1 72.5,632.6 73.6,634 74.8,635.2 76.3,636.3 77.9,637.3 79.6,638.2 81.4,639 83.3,639.8 85.3,640.4 87.3,641 89.4,641.5 91.5,641.9 93.6,642.3 95.7,642.7 97.7,643 99.8,643.3 101.9,643.6 103.9,643.8 105.9,644 108,644.2 110,644.4 112,644.5 114,644.6 116,644.7 118,644.7 120,644.8 122,644.8 124,644.8 126,644.8 128,644.8 130,644.8 132,644.7 134,644.7 135.9,644.7 137.9,644.6 139.9,644.6 141.9,644.5 143.9,644.5 145.9,644.4 147.8,644.4 149.8,644.3 151.8,644.3 176.7,643.9 201.6,643.6 226.7,643.5 251.7,643.5 276.8,643.5 301.9,643.5 327,643.6 352,643.5 376.9,643.4 389.9,643.3M457.8,286.6 377,353.8 296.2,421 215.4,488.2 190.6,508.8 169.3,526.6 150.9,542.1 135.1,555.4 121.7,566.9 110.4,576.9 101,585.5 93.2,592.9 86.9,599.3 81.9,604.9 78.1,609.7 75.4,613.8 73.7,617.4 72.7,620.5 72.5,623.2 72.9,625.5 74,627.5 75.5,629.3 77.4,630.8 79.7,632.1 82.3,633.2 85.3,634.1 88.4,635 91.8,635.7 95.4,636.3 99.2,636.9 103.1,637.3 107.1,637.7 111.2,638.1 115.4,638.4 119.7,638.6 124,638.9 128.4,639.1 132.9,639.2 137.4,639.4 142,639.5 146.6,639.6 151.2,639.7 155.8,639.8 160.5,639.9 165.2,639.9 169.9,640 174.6,640 179.3,640.1 184,640.1 188.8,640.1 193.5,640.1 198.3,640.2 203,640.2 207.8,640.2 212.6,640.2 217.3,640.2 222.1,640.2 226.9,640.2 231.7,640.3 236.5,640.3 241.3,640.3 246.1,640.3 250.8,640.3 255.6,640.3 260.4,640.3 265.2,640.3 270,640.3 274.8,640.3 279.6,640.3 284.4,640.3 289.2,640.3 294,640.3 298.8,640.3 303.6,640.3 308.4,640.3 313.2,640.3 318,640.3 322.8,640.3 327.6,640.3 332.4,640.3 337.2,640.3 342,640.3 346.8,640.3 379.2,640.3M459.8,286.6 382.2,351.1 304.6,415.7 227.1,480.2 202.4,500.8 181.1,518.7 162.8,534.1 147.1,547.4 133.8,558.9 122.4,568.9 112.7,577.5 104.7,584.9 97.9,591.3 92.3,596.9 87.8,601.7 84.1,605.9 81.2,609.4 79,612.5 77.3,615.2 76.2,617.5 75.5,619.5 75.2,621.3 75.3,622.8 75.6,624.1 76.1,625.2 76.9,626.2 77.9,627 79,627.7 80.3,628.3 81.7,628.9 83.2,629.3 84.8,629.8 86.5,630.1 88.2,630.4 90,630.7 91.8,630.9 93.7,631.1 95.7,631.2 97.6,631.4 99.6,631.5 101.6,631.6 103.7,631.7 105.7,631.8 107.8,631.9 109.9,631.9 112,632 114.1,632 115.2,632.1 114.5,631.9 112,631.3 109.7,630.6 107.5,629.7 105.6,628.8 104,627.6 102.6,626.3 101.5,624.8 100.9,623.1 100.7,621.1 100.9,618.8 101.8,616.1 103.3,613 105.6,609.4 108.7,605.3 112.8,600.5 118,594.9 124.5,588.5 132.4,581 141.9,572.4 153.2,562.5 166.6,551 182.3,537.6 200.6,522.2 221.9,504.4 246.7,483.8 325.7,418 404.7,352.3 483.8,286.6M462.1,286.6 387,349 312,411.5 237.1,473.9 212.4,494.5 191.2,512.4 172.9,527.8 157.3,541.1 143.9,552.6 132.5,562.6 122.8,571.2 114.5,578.6 107.5,585.1 101.7,590.6 96.8,595.4 92.8,599.6 89.5,603.2 86.8,606.3 84.6,609 83,611.3 81.7,613.3 80.8,615 80.2,616.5 79.9,617.8 79.8,618.9 79.9,619.9 80.2,620.7 80.6,621.4 81.1,622.1 81.8,622.6 82.5,623.1 83.4,623.5 84.3,623.8 85.2,624.1 86.3,624.4 87.3,624.6 88.4,624.8 89.6,625 90.8,625.1 91.9,625.2 92,624.4 92.9,621.7 94.5,618.6 96.8,615 100,610.9 104.2,606.1 109.4,600.5 115.9,594.1 123.9,586.6 133.4,578 144.7,568.1 158.1,556.6 173.9,543.2 192.2,527.8 213.5,510 238.3,489.4 319.5,421.8 400.8,354.2 482.1,286.6M390.6,366.1 151.7,564.8 147.7,568.1 143.9,571.4 140.3,574.6 136.8,577.6 133.6,580.6 130.5,583.6 127.6,586.4 124.8,589.1 122.3,591.8 119.9,594.4 117.7,596.9 115.7,599.3 113.8,601.6 112.2,603.8 110.7,606 109.4,608.1 108.3,610.1 107.3,612 106.5,613.8 105.9,615.5 105.5,617.2 105.3,618.7 105.2,620.2 105.3,621.6 105.6,622.9 106.1,624.1 106.7,625.3 107.6,626.3 108.6,627.3 109.7,628.2 111.1,629 112.6,629.7 114.3,630.3 116.2,630.9 118.3,631.4 120.6,631.7 123,632 125.6,632.2 128.4,632.4 131.3,632.4 390.6,632.4M390.6,368.7 151.2,567.8 147.6,570.8 144.3,573.7 141.1,576.5 138,579.2 135.2,581.9 132.5,584.5 130,587 127.6,589.5 125.4,591.8 123.4,594.1 121.6,596.3 119.9,598.5 118.4,600.6 117.1,602.6 115.9,604.5 114.9,606.3 114,608.1 113.4,609.8 112.9,611.4 112.6,612.9 112.4,614.4 112.4,615.8 112.6,617.1 113,618.4 113.5,619.5 114.2,620.6 115,621.6 116.1,622.6 117.3,623.4 118.6,624.2 120.2,624.9 121.9,625.6 123.7,626.2 125.8,626.6 128,627.1 130.4,627.4 132.9,627.7 135.6,627.8 138.5,628 141.6,628 390.6,628M390.6,373.3 147,575.8 144.3,578.1 141.8,580.4 139.4,582.6 137.2,584.7 135.1,586.8 133.2,588.8 131.5,590.8 130,592.7 128.6,594.5 127.5,596.3 126.4,598 125.6,599.7 124.9,601.3 124.4,602.9 124.1,604.3 123.9,605.8 123.9,607.2 124.1,608.5 124.5,609.7 125,610.9 125.7,612.1 126.5,613.1 127.6,614.2 128.8,615.1 130.2,616 131.7,616.9 133.4,617.7 135.3,618.4 137.4,619.1 139.6,619.7 142,620.3 144.6,620.8 147.3,621.2 150.3,621.6 153.3,621.9 156.6,622.2 160,622.4 163.6,622.5 167.4,622.6 171.4,622.6 390.6,622.6M390.6,377.4 163,566.7 160,569.2 157.2,571.6 154.5,574 152,576.4 149.7,578.6 147.5,580.8 145.5,583 143.7,585 142,587 140.5,589 139.1,590.9 137.9,592.7 136.9,594.4 136.1,596.1 135.4,597.8 134.8,599.3 134.5,600.8 134.2,602.3 134.2,603.6 134.3,604.9 134.6,606.2 135.1,607.4 135.7,608.5 136.4,609.5 137.4,610.5 138.5,611.4 139.7,612.3 141.2,613.1 142.8,613.8 144.5,614.5 146.4,615.1 148.5,615.6 150.8,616.1 153.2,616.5 155.8,616.9 158.5,617.2 161.4,617.4 164.5,617.6 167.7,617.6 171.1,617.7 390.6,617.7M390.6,381.7 179.9,557 176.6,559.7 173.4,562.5 170.5,565.1 167.7,567.7 165,570.2 162.6,572.6 160.3,575 158.2,577.2 156.2,579.5 154.5,581.6 152.8,583.7 151.4,585.7 150.1,587.6 149,589.5 148.1,591.3 147.3,593 146.8,594.7 146.3,596.3 146.1,597.8 146,599.2 146.1,600.6 146.3,601.9 146.8,603.1 147.4,604.3 148.1,605.4 149.1,606.4 150.2,607.4 151.4,608.2 152.9,609 154.5,609.8 156.3,610.5 158.2,611.1 160.4,611.6 162.6,612 165.1,612.4 167.7,612.7 170.5,613 173.5,613.2 176.6,613.3 180,613.3 390.6,613.3M390.6,387.8 186.1,557.8 183.2,560.3 180.5,562.7 177.9,565 175.5,567.3 173.3,569.5 171.2,571.6 169.3,573.7 167.6,575.7 166,577.6 164.6,579.5 163.3,581.4 162.2,583.1 161.3,584.8 160.6,586.5 160,588 159.6,589.6 159.3,591 159.2,592.4 159.3,593.7 159.5,595 159.9,596.2 160.5,597.4 161.2,598.5 162.1,599.5 163.2,600.4 164.4,601.3 165.8,602.2 167.3,602.9 169.1,603.7 171,604.3 173,604.9 175.2,605.4 177.6,605.9 180.2,606.3 182.9,606.6 185.8,606.9 188.8,607.1 192,607.3 195.4,607.4 198.9,607.4 390.6,607.4M390.6,397.7 201,555.3 198.5,557.5 196.1,559.6 193.8,561.7 191.8,563.6 189.8,565.6 188.1,567.5 186.5,569.3 185,571.1 183.7,572.8 182.6,574.5 181.6,576.1 180.8,577.6 180.1,579.2 179.6,580.6 179.2,582 179,583.3 179,584.6 179.1,585.9 179.4,587 179.8,588.2 180.4,589.2 181.2,590.2 182.1,591.2 183.1,592.1 184.4,592.9 185.7,593.7 187.3,594.5 189,595.2 190.8,595.8 192.8,596.4 195,596.9 197.3,597.3 199.8,597.8 202.4,598.1 205.2,598.4 208.1,598.7 211.2,598.8 214.5,599 217.9,599.1 221.5,599.1 390.6,599.1" fill="none" stroke="#000" stroke-opacity=".5" stroke-width=".65"/><path d="M322.3,634.6 311.8,634.6 307.9,634.6 304,634.6 300,634.6 296.1,634.6 292.2,634.6 288.2,634.6 284.3,634.6 280.4,634.6 276.5,634.6 272.5,634.6 268.6,634.6 264.7,634.6 260.8,634.6 256.8,634.6 252.9,634.6 249,634.6 245.1,634.6 241.1,634.6 237.2,634.6 233.3,634.6 229.4,634.6 225.4,634.6 221.5,634.6 217.6,634.6 213.7,634.5 209.8,634.5 205.9,634.5 202,634.5 198.1,634.5 194.2,634.5 190.3,634.5 186.4,634.4 182.5,634.4 178.6,634.4 174.7,634.4 170.9,634.3 167,634.3 163.2,634.2 159.4,634.2 155.6,634.1 151.8,634 148,633.9 144.3,633.8 140.6,633.7 136.9,633.5 133.3,633.4 129.7,633.2 126.2,632.9 122.7,632.7 119.3,632.4 116,632 112.8,631.6 109.7,631.2 106.8,630.6 104,630 101.3,629.3 98.9,628.4 96.7,627.5 94.7,626.4 93.1,625.1 91.8,623.6 90.9,621.8 90.4,619.8 90.5,617.5 91.2,614.8 92.6,611.7 94.8,608.1 97.8,604 101.8,599.2 107,593.6 113.5,587.2 121.4,579.8 131,571.1 142.4,561.2 155.8,549.7 171.5,536.4 189.9,520.9 211.3,503.1 236,482.5 314.5,417.2 393.1,351.9 471.6,286.6" fill="none" stroke="#e8192c" stroke-width="2.9" stroke-dasharray="25.25 12.25"/></g><rect x="30.5" y="399.2" width="297.5" height="297.7" fill="none" stroke="#8c8c8c" stroke-width=".8"/><path d="M33.5,696.9v-2.8M33.5,399.2v2.8M36.1,696.9v-3.4M36.1,399.2v3.4M53.3,696.9v-2.8M53.3,399.2v2.8M63.4,696.9v-2.8M63.4,399.2v2.8M70.5,696.9v-2.8M70.5,399.2v2.8M76.1,696.9v-2.8M76.1,399.2v2.8M80.6,696.9v-2.8M80.6,399.2v2.8M84.4,696.9v-2.8M84.4,399.2v2.8M87.7,696.9v-2.8M87.7,399.2v2.8M90.7,696.9v-2.8M90.7,399.2v2.8M93.3,696.9v-3.4M93.3,399.2v3.4M110.5,696.9v-2.8M110.5,399.2v2.8M120.6,696.9v-2.8M120.6,399.2v2.8M127.7,696.9v-2.8M127.7,399.2v2.8M133.2,696.9v-2.8M133.2,399.2v2.8M137.8,696.9v-2.8M137.8,399.2v2.8M141.6,696.9v-2.8M141.6,399.2v2.8M144.9,696.9v-2.8M144.9,399.2v2.8M147.8,696.9v-2.8M147.8,399.2v2.8M150.5,696.9v-3.4M150.5,399.2v3.4M167.7,696.9v-2.8M167.7,399.2v2.8M177.7,696.9v-2.8M177.7,399.2v2.8M184.9,696.9v-2.8M184.9,399.2v2.8M190.4,696.9v-2.8M190.4,399.2v2.8M195,696.9v-2.8M195,399.2v2.8M198.8,696.9v-2.8M198.8,399.2v2.8M202.1,696.9v-2.8M202.1,399.2v2.8M205,696.9v-2.8M205,399.2v2.8M207.6,696.9v-3.4M207.6,399.2v3.4M224.9,696.9v-2.8M224.9,399.2v2.8M234.9,696.9v-2.8M234.9,399.2v2.8M242.1,696.9v-2.8M242.1,399.2v2.8M247.6,696.9v-2.8M247.6,399.2v2.8M252.1,696.9v-2.8M252.1,399.2v2.8M256,696.9v-2.8M256,399.2v2.8M259.3,696.9v-2.8M259.3,399.2v2.8M262.2,696.9v-2.8M262.2,399.2v2.8M264.8,696.9v-3.4M264.8,399.2v3.4M282,696.9v-2.8M282,399.2v2.8M292.1,696.9v-2.8M292.1,399.2v2.8M299.2,696.9v-2.8M299.2,399.2v2.8M304.8,696.9v-2.8M304.8,399.2v2.8M309.3,696.9v-2.8M309.3,399.2v2.8M313.1,696.9v-2.8M313.1,399.2v2.8M316.5,696.9v-2.8M316.5,399.2v2.8M319.4,696.9v-2.8M319.4,399.2v2.8M322,696.9v-3.4M322,399.2v3.4M30.5,695.3h2.8M328,695.3h-2.8M30.5,692.9h2.8M328,692.9h-2.8M30.5,690.7h3.4M328,690.7h-3.4M30.5,676.4h2.8M328,676.4h-2.8M30.5,668h2.8M328,668h-2.8M30.5,662.1h2.8M328,662.1h-2.8M30.5,657.5h2.8M328,657.5h-2.8M30.5,653.7h2.8M328,653.7h-2.8M30.5,650.5h2.8M328,650.5h-2.8M30.5,647.8h2.8M328,647.8h-2.8M30.5,645.3h2.8M328,645.3h-2.8M30.5,643.2h3.4M328,643.2h-3.4M30.5,628.8h2.8M328,628.8h-2.8M30.5,620.5h2.8M328,620.5h-2.8M30.5,614.5h2.8M328,614.5h-2.8M30.5,609.9h2.8M328,609.9h-2.8M30.5,606.2h2.8M328,606.2h-2.8M30.5,603h2.8M328,603h-2.8M30.5,600.2h2.8M328,600.2h-2.8M30.5,597.8h2.8M328,597.8h-2.8M30.5,595.6h3.4M328,595.6h-3.4M30.5,581.3h2.8M328,581.3h-2.8M30.5,572.9h2.8M328,572.9h-2.8M30.5,567h2.8M328,567h-2.8M30.5,562.4h2.8M328,562.4h-2.8M30.5,558.6h2.8M328,558.6h-2.8M30.5,555.4h2.8M328,555.4h-2.8M30.5,552.7h2.8M328,552.7h-2.8M30.5,550.3h2.8M328,550.3h-2.8M30.5,548.1h3.4M328,548.1h-3.4M30.5,533.8h2.8M328,533.8h-2.8M30.5,525.4h2.8M328,525.4h-2.8M30.5,519.5h2.8M328,519.5h-2.8M30.5,514.9h2.8M328,514.9h-2.8M30.5,511.1h2.8M328,511.1h-2.8M30.5,507.9h2.8M328,507.9h-2.8M30.5,505.1h2.8M328,505.1h-2.8M30.5,502.7h2.8M328,502.7h-2.8M30.5,500.5h3.4M328,500.5h-3.4M30.5,486.2h2.8M328,486.2h-2.8M30.5,477.9h2.8M328,477.9h-2.8M30.5,471.9h2.8M328,471.9h-2.8M30.5,467.3h2.8M328,467.3h-2.8M30.5,463.5h2.8M328,463.5h-2.8M30.5,460.4h2.8M328,460.4h-2.8M30.5,457.6h2.8M328,457.6h-2.8M30.5,455.2h2.8M328,455.2h-2.8M30.5,453h3.4M328,453h-3.4M30.5,438.7h2.8M328,438.7h-2.8M30.5,430.3h2.8M328,430.3h-2.8M30.5,424.4h2.8M328,424.4h-2.8M30.5,419.8h2.8M328,419.8h-2.8M30.5,416h2.8M328,416h-2.8M30.5,412.8h2.8M328,412.8h-2.8M30.5,410.1h2.8M328,410.1h-2.8M30.5,407.6h2.8M328,407.6h-2.8M30.5,405.5h3.4M328,405.5h-3.4" stroke="#333" stroke-width=".7" fill="none"/><text class="t" x="36.7" y="708.9" text-anchor="middle">1</text><text class="t" x="93.9" y="708.9" text-anchor="middle">10</text><text class="t" x="151.1" y="708.9" text-anchor="middle">100</text><text class="t" x="208.2" y="708.9" text-anchor="middle">1000</text><text class="t" x="265.8" y="710.8" text-anchor="middle" font-size="8.3">10<tspan dx="-.6" dy="-2.6" font-size="9.6">4</tspan></text><text class="t" x="323" y="710.8" text-anchor="middle" font-size="8.3">10<tspan dx="-.6" dy="-2.6" font-size="9.6">5</tspan></text><text class="t" x="27.9" y="694.7" text-anchor="end">0.1</text><text class="t" x="27.9" y="647.2" text-anchor="end">1</text><text class="t" x="27.9" y="599.6" text-anchor="end">10</text><text class="t" x="27.9" y="552.1" text-anchor="end">100</text><text class="t" x="27.9" y="504.5" text-anchor="end">1000</text><text class="t" x="28.3" y="458.9" text-anchor="end" font-size="8.3">10<tspan dx="-.6" dy="-3.1" font-size="9.6">4</tspan></text><text class="t" x="28.3" y="411.4" text-anchor="end" font-size="8.3">10<tspan dx="-.6" dy="-3.1" font-size="9.6">5</tspan></text><rect x="336.2" y="406.1" width="19" height="29.1" fill="#fef0c1"/><rect x="336.2" y="434.9" width="19" height="29.1" fill="#f9d389"/><rect x="336.2" y="463.7" width="19" height="29.1" fill="#f3bf70"/><rect x="336.2" y="492.5" width="19" height="29.1" fill="#eaa652"/><rect x="336.2" y="521.3" width="19" height="29.1" fill="#bb8e64"/><rect x="336.2" y="550" width="19" height="29.1" fill="#857c85"/><rect x="336.2" y="578.8" width="19" height="29.1" fill="#5d6d9b"/><rect x="336.2" y="607.6" width="19" height="29.1" fill="#4866a3"/><rect x="336.2" y="636.4" width="19" height="29.1" fill="#3e609f"/><rect x="336.2" y="665.2" width="19" height="29.1" fill="#2b5490"/><path d="M336.2,434.9H360.7M336.2,463.7H355.2M336.2,492.5H360.7M336.2,521.3H355.2M336.2,550H360.7M336.2,578.8H355.2M336.2,607.6H360.7M336.2,636.4H355.2M336.2,665.2H360.7" stroke="#000" stroke-opacity=".7" stroke-width=".6" fill="none"/><rect x="336.2" y="406.1" width="19" height="287.9" fill="none" stroke="#000" stroke-opacity=".25" stroke-width=".5"/><text class="s" x="364.7" y="439.3">0.90</text><text class="s" x="364.7" y="496.9">0.70</text><text class="s" x="364.7" y="554.4">0.50</text><text class="s" x="364.7" y="612">0.35</text><text class="s" x="364.7" y="669.6">0.30</text><text x="160" y="386" font-size="23">P<tspan font-size="14" dy="4.3">mm,pm</tspan></text><text class="i" x="88.9" y="462" font-size="17.3">SWAP</text><text class="i" x="244.8" y="566" font-size="17.3">Identity</text><text class="i" x="189" y="717.2" font-size="24" text-anchor="middle">x</text><text class="i" transform="translate(22.4,525) rotate(-90)" font-size="22" text-anchor="middle">ν</text></svg></body></html>
